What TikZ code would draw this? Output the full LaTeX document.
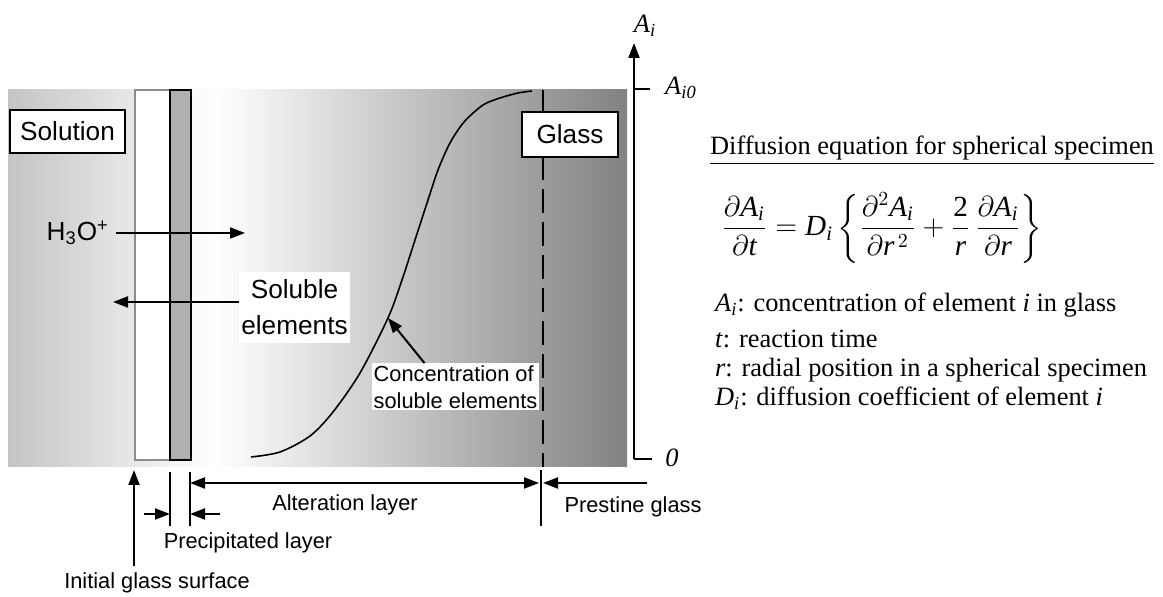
\documentclass[tikz,border=0pt]{standalone}
\usepackage{amsmath}
\usepackage{fontspec}
\setmainfont{Liberation Serif}
\setsansfont{Liberation Sans}
\usepackage{tikz}
\usetikzlibrary{arrows.meta,positioning,calc}
\definecolor{edgegray}{HTML}{8C8C8C}
\definecolor{leftgray}{HTML}{C4C4C4}
\definecolor{rightgray}{HTML}{828282}
\definecolor{layergray}{HTML}{B0B0B0}
\newcommand{\iv}[1]{\textit{#1}}

\begin{document}
\begin{tikzpicture}[x=0.5pt,y=-0.5pt,
    big/.style={font=\sffamily\fontsize{13.1}{18}\selectfont},
    small/.style={font=\sffamily\fontsize{10.9}{13.5}\selectfont},
    serif/.style={font=\fontsize{13.2}{16}\selectfont},
    tag/.style={draw,line width=1pt,fill=white,big,inner sep=1pt},
    arr/.style={-{Triangle[length=7.5pt,width=5.5pt]},line width=1pt},
    dimarr/.style={{Triangle[length=7.5pt,width=5.5pt]}-{Triangle[length=7.5pt,width=5.5pt]},line width=1pt},
    dim/.style={line width=1pt}
]
\useasboundingbox (0,0) rectangle (1163,597);
\shade[left color=leftgray,right color=white] (8,90) rectangle (215,467);
\shade[left color=white,right color=rightgray] (214.5,90) rectangle (627,467);
\draw[edgegray,line width=0.7pt,fill=white] (135,90) rectangle (170,460);
\draw[line width=1pt,fill=layergray] (170,90) rectangle (191,460);
\draw[line width=1pt,dash pattern=on 12pt off 4.5pt] (543,90) -- (543,467);
\draw[line width=0.8pt] plot[smooth] coordinates {(251,457) (280,452) (310,436) (333,412) (360,373) (388,318) (402,280) (415,240) (428,200) (438,170) (450,143) (464,122) (483,105) (500,98) (518,93) (532,91)};
\coordinate (onCurve) at (388,318);

\node[tag,minimum width=57.5pt,minimum height=21.5pt] (solution) at (67.5,131.5) {Solution};
\node[tag,minimum width=48pt,minimum height=22.5pt] (glass) at (570,134.5) {Glass};

\node[big,anchor=east] (h3o) at (116,233) {H\textsubscript{3}O\textsuperscript{+}};
\coordinate (h3otip) at (245,233);
\draw[arr] (h3o.east) -- (h3otip);
\node[big,fill=white,align=center,minimum width=54.5pt,minimum height=35.5pt,inner sep=1pt] (soluble) at (294.5,307.5) {Soluble\\elements};
\coordinate (soltip) at (113,302);
\draw[arr] (soluble.west |- soltip) -- (soltip);
\node[small,fill=white,align=left,inner sep=1pt] (conc) at (455.5,387) {Concentration of\\soluble elements};
\draw[arr] ([xshift=-15.5pt]conc.north) -- (onCurve);

\coordinate (origin) at (634,459);
\coordinate (axtop) at (634,43);
\draw[arr] (origin) -- (axtop);
\draw[dim] (origin) -- ++(18,0);
\draw[dim] (634,89) -- ++(16,0);
\node[serif] (ai) at (645,26) {\iv{A}\textsubscript{\iv{i}}};
\node[serif] (ai0) at (681,88) {\iv{A}\textsubscript{\iv{i0}}};
\node[serif] (zero) at (672,458) {\iv{0}};

\node[small] (initial) at (157,583) {Initial glass surface};
\coordinate (surface) at (134,470);
\draw[arr] (surface |- initial.north) -- (surface);
\coordinate (precL) at (170,514);
\coordinate (precR) at (190,514);
\coordinate (altL) at (190,483);
\coordinate (altR) at (539,483);
\coordinate (pristL) at (543,483);
\draw[dim] (170,472) -- (170,526);
\draw[dim] (190,472) -- (190,526);
\draw[dim] (541,470) -- (541,526);
\draw[arr] ($(precL)+(-26,0)$) -- (precL);
\draw[arr] ($(precR)+(30,0)$) -- (precR);
\draw[dimarr] (altL) -- (altR);
\draw[arr] ($(pristL)+(104,0)$) -- (pristL);
\node[small] (alteration) at (345,505) {Alteration layer};
\node[small] (prestine) at (633,507) {Prestine glass};
\node[small] (precipitated) at (248,543) {Precipitated layer};

\node[serif] (title) at (932,150) {\underline{Diffusion equation for spherical specimen}};
\node[serif,font=\fontsize{14.6}{17}\selectfont] (eq) at (882,228) {$\displaystyle\frac{\partial\iv{A}_{\iv{i}}}{\partial\iv{t}}=\iv{D}_{\iv{i}}\left\{\frac{\partial^{2}\iv{A}_{\iv{i}}}{\partial\iv{r}^{\,2}}+\frac{\textrm{2}}{\iv{r}}\,\frac{\partial\iv{A}_{\iv{i}}}{\partial\iv{r}}\right\}$};
\node[serif,anchor=base west] (defA) at (708,312) {\iv{A}\textsubscript{\iv{i}}: concentration of element \iv{i} in glass};
\node[serif,anchor=base west] (deft) at (708,348) {\iv{t}: reaction time};
\node[serif,anchor=base west] (defr) at (708,377) {\iv{r}: radial position in a spherical specimen};
\node[serif,anchor=base west] (defD) at (708,406) {\iv{D}\textsubscript{\iv{i}}: diffusion coefficient of element \iv{i}};
\end{tikzpicture}
\end{document}
